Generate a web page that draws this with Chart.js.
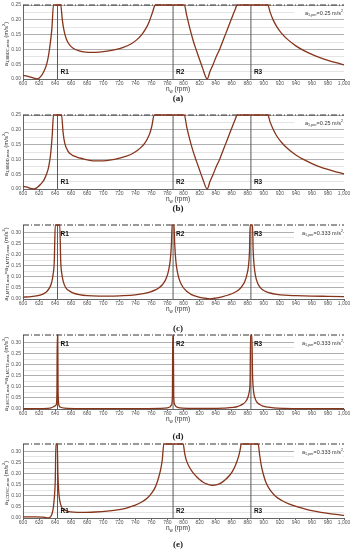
<!DOCTYPE html>
<html lang="en">
<head>
  <meta charset="UTF-8" />
  <title>Resonance acceleration charts</title>
  <script src="https://cdn.jsdelivr.net/npm/chart.js"></script>
  <style>
    body { margin: 0; background: #fff; width: 352px; height: 550px; position: relative; overflow: hidden; }
    .panel { position: absolute; left: 0; width: 352px; height: 95px; }
    .cap { position: absolute; left: 0; width: 356px; text-align: center; font: bold 9px "Liberation Serif", serif; color: #222; line-height: 10px; }
  </style>
</head>
<body>
  <div class="panel" style="top:0"><canvas id="chA" width="352" height="95"></canvas></div>
  <div class="cap" style="top:93px">(a)</div>
  <div class="panel" style="top:110px"><canvas id="chB" width="352" height="95"></canvas></div>
  <div class="cap" style="top:203px">(b)</div>
  <div class="panel" style="top:220px"><canvas id="chC" width="352" height="95"></canvas></div>
  <div class="cap" style="top:323px">(c)</div>
  <div class="panel" style="top:330px"><canvas id="chD" width="352" height="95"></canvas></div>
  <div class="cap" style="top:431px">(d)</div>
  <div class="panel" style="top:439px"><canvas id="chE" width="352" height="95"></canvas></div>
  <div class="cap" style="top:539px">(e)</div>

  <script>
    // resonance speeds (rpm) and their names
    const resonances = [643, 787, 884];
    const resonanceNames = ['R1', 'R2', 'R3'];
    // permissible acceleration per panel (m/s^2)
    const limits = [0.25, 0.25, 0.333, 0.333, 0.333];

    // (a)
    const aX = [600,605,610,615,618,622,626,630,633,636,638,
      647,649,651,654,658,663,670,678,686,695,705,715,725,735,742,748,753,757,761,765,
      801,804,808,812,816,820,824,829.5,833,837,841,845,850,855,860,864,867,
      905,908,912,916,922,930,940,950,960,970,980,990,1000];
    const aY = [0.012,0.010,0.006,0.002,0.000,0.008,0.025,0.055,0.10,0.17,0.25,
      0.25,0.20,0.165,0.135,0.115,0.103,0.095,0.091,0.090,0.091,0.094,0.099,0.107,0.119,0.133,0.150,0.170,0.192,0.222,0.25,
      0.25,0.215,0.17,0.13,0.097,0.066,0.035,0.000,0.025,0.05,0.077,0.10,0.135,0.17,0.205,0.232,0.25,
      0.25,0.225,0.198,0.178,0.155,0.133,0.112,0.096,0.083,0.072,0.063,0.055,0.048];

    // (b)
    const bX = [600,605,610,614,618,622,626,629,632,634.5,636.5,638,
      648,650,652,656,661,667,675,683,690,696,704,712,720,729,736,742,748,752,755,758,760.5,763.5,
      801,804,808,812,816,820,824,829.5,833,837,841,845,850,855,860,864,867,
      905,908,912,916,922,930,940,950,960,970,980,990,1000];
    const bY = [0.009,0.006,0.002,0.000,0.006,0.016,0.030,0.048,0.075,0.12,0.185,0.25,
      0.25,0.19,0.155,0.128,0.115,0.108,0.102,0.097,0.095,0.095,0.096,0.099,0.104,0.111,0.119,0.129,0.143,0.156,0.170,0.188,0.212,0.25,
      0.25,0.21,0.165,0.127,0.095,0.064,0.034,0.000,0.025,0.05,0.077,0.10,0.135,0.17,0.205,0.232,0.25,
      0.25,0.226,0.2,0.18,0.158,0.136,0.115,0.099,0.086,0.075,0.066,0.058,0.051];

    // (c)
    const cX = [600,610,620,626,630,633,635.5,637.5,639,640.2,645.8,647,648.5,650.5,653,657,662,670,680,695,
      710,725,740,750,758,765,770,775,779,781.5,783.5,785,785.8,788.2,789,790.5,792.5,795,799,804,
      810,818,826,833,840,848,856,863,869,873,876.5,879,881,882.3,883,886,886.8,888,890,892.5,
      896,901,908,916,926,940,960,980,1000];
    const cY = [0.008,0.011,0.016,0.024,0.035,0.05,0.072,0.11,0.17,0.333,0.333,0.17,0.11,0.075,0.053,0.038,0.028,0.02,0.015,0.013,
      0.013,0.015,0.019,0.024,0.031,0.041,0.052,0.07,0.098,0.13,0.175,0.25,0.333,0.333,0.25,0.17,0.12,0.085,0.055,0.035,
      0.02,0.01,0.004,0.001,0.004,0.01,0.018,0.028,0.042,0.058,0.08,0.11,0.15,0.22,0.333,0.333,0.22,0.15,0.1,0.07,
      0.05,0.036,0.027,0.021,0.017,0.015,0.013,0.012,0.011];

    // (d)
    const dX = [600,620,630,635,638,640,641.5,642.3,642.7,643.3,643.7,645,647,652,670,700,740,770,780,783,
      785,786.2,786.6,787.3,787.8,789,791,796,810,830,850,862,868,874,878,880.5,882,883,883.6,885.2,
      886,887.5,889,891,895,899,905,912,925,950,1000];
    const dY = [0.002,0.002,0.003,0.005,0.010,0.014,0.02,0.08,0.333,0.333,0.08,0.015,0.008,0.004,0.002,0.002,0.002,0.003,0.005,0.009,
      0.018,0.06,0.333,0.333,0.06,0.02,0.01,0.005,0.003,0.003,0.004,0.007,0.012,0.022,0.036,0.055,0.08,0.13,0.333,0.333,
      0.16,0.075,0.05,0.033,0.02,0.013,0.008,0.005,0.003,0.002,0.002];

    // (e)
    const eX = [600,615,625,630,633,635.5,637.5,639,640.3,641,642.7,643.5,644.5,646,648,651,656,663,675,690,
      705,720,730,740,748,755,761,765,768,771,773.5,775.5,
      799.6,801.5,804,808,812,816,820,825,830,836,842,847,852,857,861,865,868.5,870.5,872,
      893,895,897,900,903,908,915,922,932,942,953,965,978,990,1000];
    const eY = [0.005,0.005,0.004,0.001,0.002,0.012,0.04,0.09,0.18,0.333,0.333,0.2,0.12,0.075,0.05,0.038,0.03,0.026,0.025,0.027,
      0.031,0.038,0.046,0.058,0.072,0.09,0.115,0.14,0.17,0.21,0.26,0.333,
      0.333,0.29,0.255,0.225,0.203,0.187,0.173,0.16,0.152,0.147,0.15,0.158,0.172,0.19,0.21,0.24,0.275,0.305,0.333,
      0.333,0.28,0.235,0.19,0.157,0.125,0.097,0.08,0.062,0.05,0.039,0.03,0.022,0.016,0.012];

    const FONT = '"Liberation Sans", Arial, sans-serif';
    const CURVE = '#86341a';

    // text with sub/superscripts: parts = [[text, ''|'sub'|'sup'], ...]
    function rich(ctx, parts, x, y, size, align, weight) {
      const fs = p => p[1] ? size * 0.68 : size;
      let w = 0;
      parts.forEach(p => { ctx.font = `${weight || ''} ${fs(p)}px ${FONT}`; w += ctx.measureText(p[0]).width; });
      let cx = align === 'right' ? x - w : align === 'center' ? x - w / 2 : x;
      ctx.textAlign = 'left';
      ctx.textBaseline = 'middle';
      parts.forEach(p => {
        ctx.font = `${weight || ''} ${fs(p)}px ${FONT}`;
        const dy = p[1] === 'sub' ? size * 0.38 : p[1] === 'sup' ? -size * 0.42 : 0;
        ctx.fillText(p[0], cx, y + dy);
        cx += ctx.measureText(p[0]).width;
      });
      return w;
    }

    const overlay = {
      id: 'overlay',
      afterDraw(chart) {
        const o = chart.options.plugins.overlay;
        const { ctx, chartArea: ca, scales } = chart;
        ctx.save();
        ctx.fillStyle = '#333';
        // y title
        ctx.save();
        ctx.translate(6, (ca.top + ca.bottom) / 2 + 2);
        ctx.rotate(-Math.PI / 2);
        rich(ctx, o.yTitle, 0, 0, 6, 'center');
        ctx.restore();
        // x title
        rich(ctx, [['n', ''], ['w', 'sub'], [' (rpm)', '']], 178, 89, 6.5, 'center');
        // permissible level note
        const note = [['a', ''], ['1,per', 'sub'], ['=' + o.lim + ' m/s', ''], ['2', 'sup']];
        ctx.fillStyle = '#fff';
        ctx.fillRect(ca.right - 50, ca.top + 4, 49, 9);
        ctx.fillStyle = '#333';
        rich(ctx, note, ca.right - 1, ca.top + 8, 5.5, 'right');
        // resonance names
        ctx.fillStyle = '#111';
        resonances.forEach((r, i) => {
          rich(ctx, [[resonanceNames[i], '']], scales.x.getPixelForValue(r) + 3, scales.y.getPixelForValue(o.rLabelY), 6.5, 'left', 'bold');
        });
        ctx.restore();
      }
    };

    function pts(xs, ys) { return xs.map((x, i) => ({ x: x, y: ys[i] })); }

    function isMajor(v) { return Math.abs(v / 0.05 - Math.round(v / 0.05)) < 1e-6; }

    function makePanel(id, xs, ys, lim, yTitle, rLabelY) {
      const datasets = [{
        data: pts(xs, ys), borderColor: CURVE, borderWidth: 1.3, pointRadius: 0,
        cubicInterpolationMode: 'monotone', clip: 3, order: 0
      }, {
        data: [{ x: 600, y: lim }, { x: 1000, y: lim }], borderColor: '#333', borderWidth: 1,
        borderDash: [6, 2, 1, 2], pointRadius: 0, clip: 3, order: 2
      }];
      resonances.forEach(r => datasets.push({
        data: [{ x: r, y: 0 }, { x: r, y: lim }], borderColor: '#5a5a5a', borderWidth: 1,
        pointRadius: 0, order: 1
      }));
      new Chart(document.getElementById(id), {
        type: 'line',
        data: { datasets: datasets },
        options: {
          responsive: false, animation: false, devicePixelRatio: 1,
          layout: { padding: { left: 0, right: 8, top: 5, bottom: 0 } },
          plugins: { legend: { display: false }, tooltip: { enabled: false },
            overlay: { yTitle: yTitle, lim: lim, rLabelY: rLabelY } },
          scales: {
            x: {
              type: 'linear', min: 600, max: 1000,
              afterFit: s => { s.height = 16; },
              ticks: { stepSize: 20, autoSkip: false, maxRotation: 0, padding: 0, color: '#555', font: { size: 5, family: FONT } },
              grid: { drawOnChartArea: false, tickLength: 2, color: '#666' },
              border: { color: '#666', width: 1 }
            },
            y: {
              min: 0, max: lim,
              afterFit: s => { s.width = 23; },
              ticks: { stepSize: 0.025, autoSkip: false, padding: 2, color: '#555', font: { size: 5, family: FONT },
                callback: v => isMajor(v) ? v.toFixed(2) : '' },
              grid: {
                drawTicks: false, lineWidth: 0.8,
                color: c => {
                  const v = c.tick.value;
                  if (Math.abs(v - lim) < 1e-6 && !isMajor(v)) return 'rgba(0,0,0,0)';
                  return isMajor(v) ? '#9a9a9a' : '#dddddd';
                }
              },
              border: { color: '#666', width: 1 }
            }
          }
        },
        plugins: [overlay]
      });
    }

    const unit = [[' (m/s', ''], ['2', 'sup'], [')', '']];
    makePanel('chA', aX, aY, limits[0], [['a', ''], ['1,BBDC,max', 'sub']].concat(unit), 0.022);
    makePanel('chB', bX, bY, limits[1], [['a', ''], ['1,BBDD,max', 'sub']].concat(unit), 0.022);
    makePanel('chC', cX, cY, limits[2], [['a', ''], ['1,MTT1,max', 'sub'], ['=a', ''], ['1,MTT2,max', 'sub']].concat(unit), 0.29);
    makePanel('chD', dX, dY, limits[3], [['a', ''], ['1,MCT1,max', 'sub'], ['=a', ''], ['1,MCT2,max', 'sub']].concat(unit), 0.29);
    makePanel('chE', eX, eY, limits[4], [['a', ''], ['1,CDSC,max', 'sub']].concat(unit), 0.03);
  </script>
</body>
</html>
